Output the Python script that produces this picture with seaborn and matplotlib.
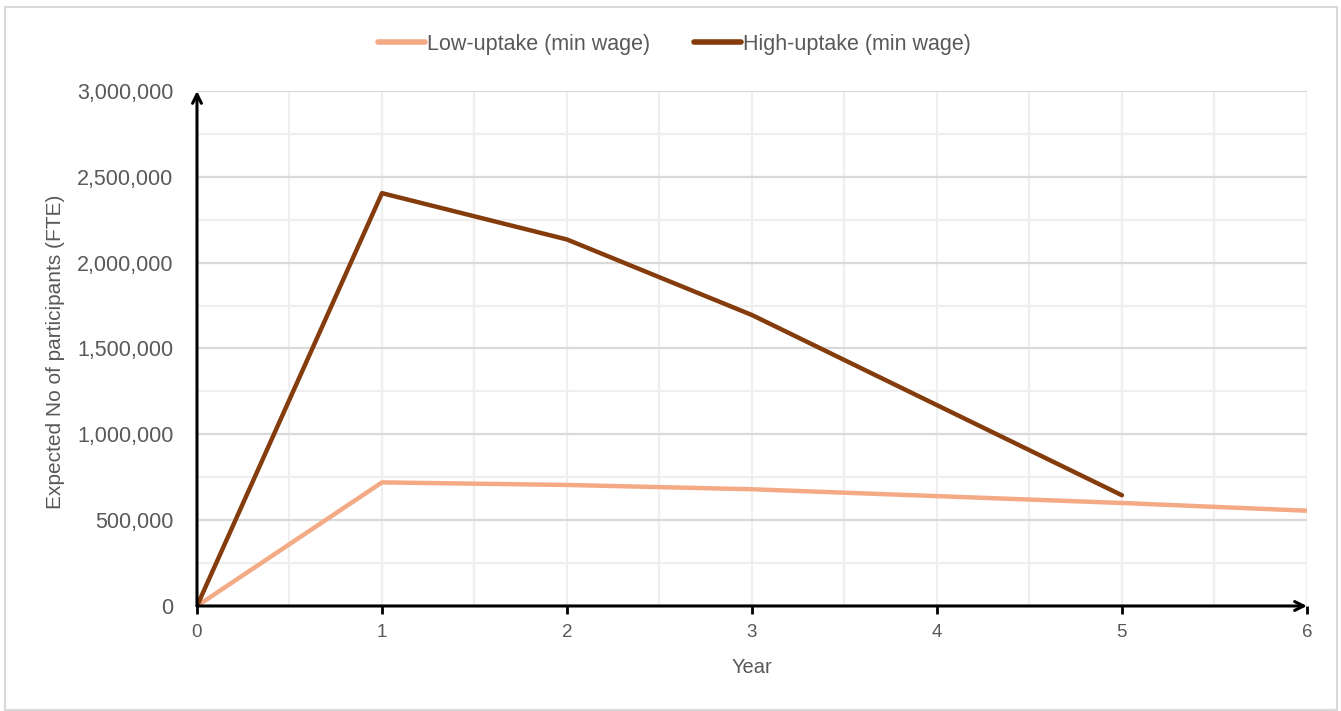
import numpy as np
import pandas as pd
import matplotlib
matplotlib.use("Agg")
import matplotlib.pyplot as plt
from matplotlib.patches import Rectangle
from matplotlib.ticker import FuncFormatter, MultipleLocator
import seaborn as sns

# Expected participants (FTE) by year
years = [0, 1, 2, 3, 4, 5, 6]
low_uptake = [0, 720000, 705000, 680000, 640000, 600000, 555000]
high_uptake = [0, 2405000, 2135000, 1695000, 1170000, 645000, np.nan]
series_names = ["Low-uptake (min wage)", "High-uptake (min wage)"]
series_colors = ["#F4AA84", "#843C0C"]

df = pd.concat([
    pd.DataFrame({"Year": years, "Participants": low_uptake, "Series": series_names[0]}),
    pd.DataFrame({"Year": years, "Participants": high_uptake, "Series": series_names[1]}),
]).dropna()

sns.set_theme(style="white")
plt.rcParams["font.family"] = ["Liberation Sans", "DejaVu Sans"]

fig = plt.figure(figsize=(13.41, 7.11), dpi=100)
ax = fig.add_axes([0.1469, 0.1477, 0.8277, 0.7243])

# Outer chart border
fig.patches.append(Rectangle((5 / 1341, 1 / 711), 1332 / 1341, 703 / 711,
                             transform=fig.transFigure, fill=False,
                             edgecolor="#D9D9D9", linewidth=1.5))

sns.lineplot(data=df, x="Year", y="Participants", hue="Series",
             hue_order=series_names, palette=series_colors,
             estimator=None, sort=False, linewidth=3.2, ax=ax, legend=False)
for line in ax.get_lines():
    line.set_solid_capstyle("round")
    line.set_solid_joinstyle("round")
    line.set_zorder(4)

ax.set_xlim(0, 6)
ax.set_ylim(0, 3000000)
ax.xaxis.set_major_locator(MultipleLocator(1))
ax.xaxis.set_minor_locator(MultipleLocator(0.5))
ax.yaxis.set_major_locator(MultipleLocator(500000))
ax.yaxis.set_minor_locator(MultipleLocator(250000))
ax.yaxis.set_major_formatter(FuncFormatter(lambda v, p: f"{int(v):,}"))

ax.grid(True, which="major", axis="y", color="#D9D9D9", linewidth=1.6)
ax.grid(True, which="minor", axis="y", color="#EFEFEF", linewidth=1.6)
ax.grid(True, which="both", axis="x", color="#EFEFEF", linewidth=1.6)
ax.set_axisbelow(True)

for s in ax.spines.values():
    s.set_visible(False)

# Axes drawn as arrows
ax.annotate("", xy=(0, 1.0), xytext=(0, 0), xycoords="axes fraction",
            arrowprops=dict(arrowstyle="->", color="black", lw=2.2,
                            shrinkA=0, shrinkB=0, mutation_scale=16), zorder=5)
ax.annotate("", xy=(1.0, 0), xytext=(0, 0), xycoords="axes fraction",
            arrowprops=dict(arrowstyle="->", color="black", lw=2.2,
                            shrinkA=0, shrinkB=0, mutation_scale=16), zorder=5)

ax.tick_params(axis="x", which="major", direction="out", length=6, width=2,
               color="black", labelsize=13.5, labelcolor="#595959", pad=7,
               bottom=True)
ax.tick_params(axis="x", which="minor", length=0)
ax.tick_params(axis="y", which="both", length=0, labelsize=15.5,
               labelcolor="#595959", pad=17)

ax.set_xlabel("Year", fontsize=14.5, color="#595959", labelpad=12)
ax.set_ylabel("Expected No of participants (FTE)", fontsize=15,
              color="#595959", labelpad=8)
ax.yaxis.set_label_coords(-0.119, 0.493)

handles = [plt.Line2D([], [], color=c, lw=4, solid_capstyle="round")
           for c in series_colors]
fig.legend(handles, series_names, loc="center", bbox_to_anchor=(0.503, 0.938),
           ncol=2, frameon=False, fontsize=15.5, handlelength=2.2,
           handletextpad=0.1, columnspacing=2.0, labelcolor="#595959")

fig.savefig("out.png", dpi=100)
